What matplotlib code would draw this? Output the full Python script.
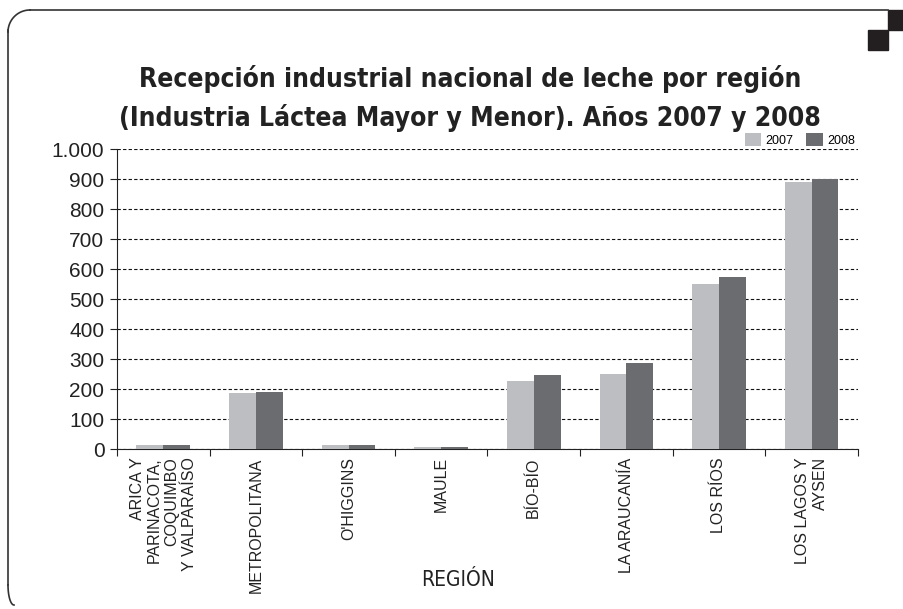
import numpy as np
import matplotlib
matplotlib.use("Agg")
import matplotlib.pyplot as plt
from matplotlib.patches import Rectangle
from matplotlib.ticker import FuncFormatter

regiones = ["ARICA Y\nPARINACOTA,\nCOQUIMBO\nY VALPARAÍSO", "METROPOLITANA", "O'HIGGINS", "MAULE",
            "BÍO-BÍO", "LA ARAUCANÍA", "LOS RÍOS", "LOS LAGOS Y\nAYSEN"]
v2007 = [15, 187, 15, 8, 228, 250, 550, 890]
v2008 = [15, 190, 15, 8, 248, 287, 573, 900]
anios = ["2007", "2008"]

c07 = "#bdbec2"
c08 = "#6b6c70"
txt = "#222222"

plt.rcParams['font.family'] = ['Liberation Sans', 'DejaVu Sans']

fig = plt.figure(figsize=(9.04, 6.09), dpi=100)
ax = fig.add_axes([0.1294, 0.2627, 0.8196, 0.4926])

x = np.arange(len(regiones))
w = 0.29
ax.bar(x - w/2, v2007, w, color=c07, label=anios[0], zorder=3)
ax.bar(x + w/2, v2008, w, color=c08, label=anios[1], zorder=3)

ax.set_xlim(-0.5, len(regiones) - 0.5)
ax.set_ylim(0, 1000)
ax.set_yticks(np.arange(0, 1001, 100))
ax.yaxis.set_major_formatter(FuncFormatter(lambda v, p: f"{int(v):,}".replace(",", ".")))
ax.grid(axis='y', linestyle=(0, (3, 2)), color='#111111', linewidth=0.8, zorder=0)

# ticks between categories, names centred on the bars
ax.set_xticks(np.arange(-0.5, len(regiones)), minor=False)
ax.set_xticklabels([])
ax.set_xticks(x, minor=True)
ax.set_xticklabels(regiones, minor=True, rotation=90, fontsize=11.5, color=txt,
                   va='top', ha='center', multialignment='right', linespacing=1.2)
ax.tick_params(axis='x', which='minor', length=0, pad=6)
ax.tick_params(axis='x', which='major', length=5, direction='out', color=txt)
ax.tick_params(axis='y', length=5, labelsize=15, colors=txt, pad=4)

for s in ['top', 'right']:
    ax.spines[s].set_visible(False)
ax.spines['left'].set_color(txt)
ax.spines['bottom'].set_color(txt)

ax.legend(loc='lower right', bbox_to_anchor=(1.0, 1.0), ncol=2, frameon=False,
          fontsize=9, handlelength=1.3, handleheight=1.3, handletextpad=0.4,
          columnspacing=1.0, borderaxespad=0.1, borderpad=0.1)

fig.text(0.52, 0.838, "Recepción industrial nacional de leche por región\n(Industria Láctea Mayor y Menor). Años 2007 y 2008",
         ha='center', va='center', fontsize=19, fontweight='bold', color=txt,
         family='DejaVu Sans', fontstretch='condensed', linespacing=1.5)

fig.text(0.507, 0.048, "REGIÓN", ha='center', va='center', fontsize=15, color=txt,
         family='DejaVu Sans', fontstretch='condensed')

# frame with rounded corner
fig.add_artist(plt.Line2D([8/904, 8/904], [1-585/609, 1-30/609], color='#333333', lw=1.2))
fig.add_artist(plt.Line2D([30/904, 888/904], [1-10/609, 1-10/609], color='#333333', lw=1.2))
t = np.linspace(0, np.pi/2, 30)
fig.add_artist(plt.Line2D((30 - 22*np.cos(t))/904, 1 - (32 - 22*np.sin(t))/609, color='#333333', lw=1.2))
fig.add_artist(plt.Line2D((8 + 6*(1-np.cos(t)))/904, 1 - (585 + 20*np.sin(t))/609, color='#333333', lw=1.2))

# corner squares
fig.add_artist(Rectangle((888/904, 1-30/609), 16/904, 20/609, color='#231f20', transform=fig.transFigure))
fig.add_artist(Rectangle((868/904, 1-50/609), 20/904, 20/609, color='#231f20', transform=fig.transFigure))

fig.savefig("out.png", dpi=100)
